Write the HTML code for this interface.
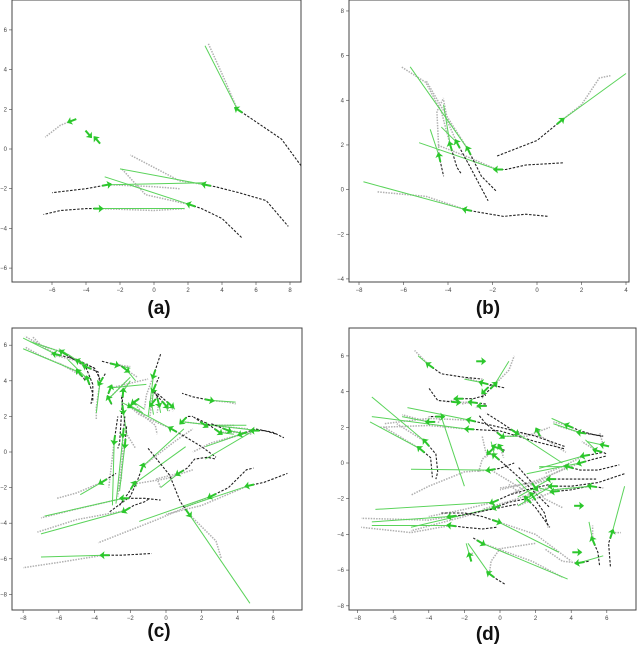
<!DOCTYPE html>
<html><head><meta charset="utf-8"><style>
body{margin:0;background:#fff;width:640px;height:650px;overflow:hidden;font-family:"Liberation Sans",sans-serif}
svg{position:absolute;left:0;top:0}
.lbl{font-weight:bold;font-size:19px;fill:#111}
.tk{font-size:6px;fill:#444}
</style></head><body>
<svg id="fig" width="640" height="650"></svg>
<script>
// ---------- Panel (a) data ----------
const posA=[[4.9,2.0],[3.0,-1.8],[2.1,-2.8],[-2.7,-1.8],[-3.2,-3.0],[-4.9,1.4],[-3.8,0.7],[-3.4,0.5]];
const histA=[[[5.6,1.6],[7.5,0.5],[8.7,-0.9]],[[3.6,-1.9],[5,-2.2],[6.6,-2.6],[7.9,-3.9]],[[2.8,-3.0],[4,-3.5],[5.2,-4.5]],[[-4,-2.0],[-6,-2.2]],[[-4,-3.0],[-5.5,-3.1],[-6.5,-3.3]],[],[],[]];
const futA=[[[4.1,3.6],[3.2,5.3]],[[1.5,-1.6],[-1.4,-0.3]],[[-0.5,-2.3],[-1.9,-1.0]],[[0,-1.9],[1.5,-2.0]],[[0,-3.1],[1.8,-3.0]],[[-5.5,1.2],[-6.4,0.6]],[[-3.7,0.6]],[[-3.5,0.6]]];
const predA=[[3.0,5.2],[-2.0,-1.0],[-2.9,-1.4],[3.0,-1.7],[1.8,-3.0],null,null,null];
// ---------- Panel (b) data ----------
const posB=[[1.1,3.1],[-1.8,0.9],[-3.2,-0.9],[-4.4,1.5],[-3.9,2.0],[-3.1,1.8],[-3.6,2.1]];
const histB=[[[0,2.2],[-1.8,1.5]],[[-1.4,0.9],[-0.5,1.1],[1.2,1.2]],[[-2.7,-1.0],[-1.5,-1.2],[-0.5,-1.1],[0.5,-1.2]],[[-4.2,0.6]],[[-3.6,1.0],[-3.4,0.7]],[[-2.5,0.6],[-1.8,-0.1]],[[-3.0,1.0],[-2.2,-0.5]]];
const futB=[[[2,3.8],[2.8,5],[3.3,5.1]],[[-3.2,1.5],[-4.5,2.0]],[[-5,-0.3],[-7.2,-0.1]],[[-4.5,3.5],[-4.2,4.1]],[[-4.3,3.5],[-5,4.8],[-6.1,5.5]],[[-4,3.2],[-5,4.9]],[[-4,3],[-4.2,4]]];
const predB=[[4.0,5.2],[-5.3,2.1],[-7.8,0.35],[-4.8,2.7],[-4.2,3.8],[-5.7,5.5],[-4.3,2.8]];
// ---------- Panel (c) data ----------
const posC=[[-6.2,5.5],[-5.8,5.6],[-4.9,5.1],[-4.5,4.8],[-4.9,4.5],[-4.4,4.1],[-3.7,3.9],[-2.8,4.9],[-2.2,4.6],[-3.1,3.6],[-3.2,3.0],[-2.4,3.4],[-2.4,2.3],[-2.0,2.6],[-1.8,2.8],[-2.4,1.0],[-2.9,0.6],[-2.3,0.4],[-0.7,4.3],[-0.7,3.5],[-0.8,2.7],[-0.4,2.7],[0.0,2.6],[0.3,2.6],[2.5,2.9],[0.3,1.3],[0.9,1.7],[2.2,1.5],[3.0,1.1],[3.5,1.2],[4.2,1.0],[4.9,1.2],[-1.3,-0.8],[-1.8,-1.8],[0.7,-1.2],[-3.6,-1.7],[-2.4,-2.6],[-2.3,-3.3],[2.5,-2.5],[4.6,-1.9],[1.3,-3.5],[-3.5,-5.8]];
const histC=[[[-5,5.2],[-4,4.7]],[[-4.5,4.8],[-4.1,3.8],[-4.1,2.8]],[[-4,4.7],[-3.7,4.1]],[[-3.8,4.5],[-3.7,3.8]],[[-4.5,4.0]],[[-4.1,3.3],[-4.2,2.7]],[[-3.4,4.4]],[[-3.6,5.1]],[[-2.6,4.9]],[[-3.3,3.1]],[[-3.0,2.6]],[[-2.5,2.0],[-2.6,0.5],[-2.7,0.2]],[[-2.5,3.2]],[[-1.6,2.9]],[[-1.5,3.0]],[[-2.3,2.0]],[[-2.7,2]],[[-2.2,1.5]],[[-0.3,5.5]],[[-0.4,4.2]],[[-0.4,3.2]],[[-0.6,3.4]],[[-0.8,3.5]],[[-0.5,3.3]],[[1.5,3.1],[0.9,3.3]],[[1.0,0.9],[2.0,0.3],[2.8,-0.3]],[[1.2,2.0],[1.5,2.0]],[[1.5,2.0]],[[2.3,1.6],[1.7,1.9]],[[2.5,1.6]],[[5,1.3],[6,1.1],[6.6,0.8]],[[5.5,1.2],[6.2,1.0]],[[-1.6,-1.6],[-2.0,-2.5],[-3.2,-3.4]],[[-2.1,-2.3],[-2.6,-3.0]],[[1.2,-0.9],[1.6,-0.4],[2.3,-0.3],[2.8,-0.4]],[[-2.8,-1.2]],[[-1.2,-2.6],[-0.3,-2.7]],[[-1.8,-3.0],[-1.2,-2.8],[-0.9,-2.6]],[[3.5,-2.0],[4.5,-1.0],[4.9,-0.9]],[[5.5,-1.7],[6.8,-1.2]],[[0.8,-2.8],[0.2,-1.3],[-1.0,0.2]],[[-2.5,-5.8],[-0.8,-5.7]]];
const futC=[[[-7,6],[-7.9,6.5]],[[-7,6],[-7.5,6.5]],[[-6.5,5.5]],[[-6,5.7]],[[-7,5.4],[-7.9,5.9]],[[-6,5]],[[-3.9,2.5],[-3.9,1.8]],[[-2,4.8]],[[-1.6,4.2]],[[-1,4.1]],[[-2.2,4.0]],[[-2.2,3.8]],[[-2.2,1.0],[-1.7,0.2]],[[-0.6,1.5],[-0.5,1.0]],[[-1.2,2.0]],[[-2.5,-1.5],[-2.7,-2.2]],[[-3.2,-2]],[[-2.6,-1.5],[-2.7,-2.5]],[[-1.1,3.2],[-1.2,2.5]],[[-0.9,2.4]],[[-0.9,2.0]],[[-0.5,2.2]],[[0.2,2.3]],[[0.4,2.3]],[[3.5,2.8],[3.9,2.7]],[[-1.5,2.1],[-2.2,2.7]],[[3.5,1.4],[4.6,1.3]],[[3.8,1.5]],[[4,1.1]],[[4.8,1.0]],[[2.5,0.5],[1.5,0]],[[3,0.6]],[[0.5,0.6],[1.5,1.3]],[[0,-1.5],[1.5,-1.0]],[[-0.5,-1.5],[-0.3,-2.0]],[[-5,-2.3],[-6.1,-2.6]],[[-5,-3.2],[-7,-3.7]],[[-5,-3.8],[-7.2,-4.5]],[[-0.5,-3.8],[-3.8,-5.1]],[[2,-3],[0,-3.5]],[[2.8,-5],[3.1,-6]],[[-6,-6.2],[-8,-6.5]]];
const predC=[[-8,6.4],[-7.6,6.2],[-6.0,5.8],[-5.5,5.5],[-8,5.8],[-5.5,5.2],[-3.9,2.2],[-2.0,4.7],[-1.7,4.0],[-1.1,3.8],[-2.0,4.2],[-2.0,4.0],[-2.2,1.0],[-1.3,2.2],[-1.2,2.4],[-2.8,-2.9],[-3.0,-3.0],[-2.6,-2.2],[-1.0,2.0],[-0.8,2.5],[-0.7,2.1],[-0.3,2.2],[0.1,2.3],[0.5,2.4],[3.9,2.8],[-2.5,2.8],[5.2,1.2],[4.5,1.5],[3.8,1.0],[4.6,1.0],[2.2,0.3],[2.2,-0.4],[1.0,1.3],[1.1,0.3],[-0.3,-2.0],[-4.8,-2.4],[-6.8,-3.6],[-7.0,-4.6],[-1.5,-3.9],[1.0,-3.1],[4.7,-8.5],[-7.0,-5.9]];
// ---------- Panel (d) data ----------
const posD=[[-4.0,5.5],[-1.0,5.7],[-1.0,4.5],[-0.3,4.4],[-0.9,4.0],[-2.4,3.6],[-2.4,3.4],[-1.6,3.4],[-1.1,3.2],[-3.3,2.6],[-4.0,2.3],[-1.7,2.4],[-1.8,1.9],[-4.2,1.2],[-4.5,0.8],[0.1,1.5],[0.9,1.7],[2.1,1.8],[3.8,2.1],[4.5,1.7],[5.8,1.0],[5.4,0.7],[4.7,0.4],[4.5,0.0],[3.8,-0.2],[-0.6,-0.4],[-0.6,0.6],[-0.3,0.9],[0.0,0.9],[-0.3,0.4],[2.8,-0.9],[2.9,-1.3],[3.0,-1.6],[5.1,-1.3],[2.0,-1.4],[1.8,-1.8],[1.5,-2.0],[-0.4,-2.2],[-0.3,-2.5],[-2.8,-3.0],[-2.8,-3.5],[-0.1,-3.3],[-1.0,-4.5],[-1.7,-5.2],[-0.6,-6.2],[4.4,-5.6],[4.4,-5.0],[5.2,-4.3],[6.3,-3.9],[4.5,-2.4]];
const histD=[[[-3.3,5.0],[-2,4.8],[-1,4.7]],[],[[-0.2,4.3],[0.3,4.2]],[[-0.8,3.9],[-1.0,3.7]],[[-0.5,4.4]],[[-1.5,3.6],[-0.8,3.8]],[[-3.5,3.5],[-4.0,4.2]],[[-0.8,3.3]],[[-0.7,3.2]],[[-4,2.6]],[[-3.6,2.3]],[[0,2.0],[2,1.5],[3.7,0.9]],[[0,1.8],[2,1.2],[3.6,0.8]],[[-3.6,0.5],[-3.5,-0.5],[-3.6,-0.9]],[[-3.9,0.3],[-3.8,-0.8]],[[-0.8,2.2],[-1.2,2.7]],[[0,2.3],[-0.8,2.8]],[[2.2,1.6]],[[4.5,1.8],[5.2,1.6],[5.8,1.5]],[[5.2,1.6],[5.7,1.5]],[],[[5.8,0.6],[6,0.5]],[[5.3,0.5],[5.8,0.6]],[[5.2,0.2],[6,0.4]],[[4.5,-0.4],[5.5,-0.4],[6.7,-0.1]],[[0,-0.3],[0.8,0]],[[-0.4,0.8]],[[0.3,0.7]],[[0.2,0.6]],[[0.5,-0.3],[1.5,-1.2],[2.8,-2.5]],[[3.5,-0.9],[5.4,-0.9]],[[4,-1.3],[5.5,-1.1],[7,-0.6]],[[4,-1.5],[5,-1.3]],[[5.8,-1.4]],[[1.7,-1.0],[1.0,-0.2]],[[2.5,-2.8],[2.7,-3.6]],[[2,-2.5],[2.8,-3.6]],[[0.5,-1.8],[1.5,-1.5],[2.8,-1.2]],[[0.5,-2.2],[1.5,-2.0]],[[-2,-2.9],[-0.5,-2.6],[1,-2.3]],[[-2,-3.6],[-1,-3.7],[-0.2,-3.6]],[[-1,-3.0],[-2,-2.8],[-3.3,-2.8]],[[-1.5,-4.2]],[],[[-0.2,-6.5],[0.3,-6.8]],[[5,-5.5]],[],[[5.5,-5.0],[5.6,-5.8]],[[6.1,-4.5],[6.2,-5.8]],[]];
const futD=[[[-4.8,6.3]],[],[[-2,4.8]],[[0.5,5.2],[0.8,6]],[[-1.0,3.6]],[[-3.0,3.4]],[[-1.8,3.4]],[[-2.2,3.3]],[[-1.4,3.1]],[[-3.5,2.2]],[[-5.5,2.7]],[[-4,2.5],[-6.5,2.2]],[[-4,2.1],[-6.8,2.0]],[[-5.8,2.2]],[[-6.5,2.0]],[[1.5,1.5],[2.8,2.0]],[[2.3,1.5],[3.7,0.6]],[],[[3,2.3]],[[3.2,2.1]],[[5.6,1.7]],[[4.6,1.2]],[[3.5,-0.2],[2.5,-0.6]],[[2,-1],[0,-1.5]],[[2,-1.1],[0,-1.4]],[[-2,-0.5],[-4,-1.3],[-5,-1.8]],[[-1.0,0.2],[-1.2,-0.5]],[[-0.8,0.3]],[[0.2,0.3]],[[-0.8,0.6],[-1,1.5]],[[1.5,-1.3],[0.5,-1.8]],[[1,-2],[-1,-2.6]],[[1,-2.4]],[[3,-1.5]],[[2.5,-2],[3.5,-2.5]],[[0.5,-1],[-0.5,-0.4]],[[0.5,-1.2]],[[-2,-2.6],[-4,-3]],[[-2,-3.0],[-5,-3.8]],[[-4,-3.2],[-7.8,-3.1]],[[-5,-3.9],[-7.8,-3.6]],[[2,-4],[4,-5.5]],[[1.8,-5.5],[3.5,-6.4]],[[-1.5,-5]],[[-0.5,-5.5],[0,-4.8],[2,-4.5]],[[3.5,-5.5],[2.5,-4.8]],[],[[5.2,-3.5]],[[6.8,-3.9]],[]];
const predD=[[-4.6,6.0],null,[-2,4.7],[0.5,5.7],null,null,null,null,null,[-2,-1.3],[-5.5,2.6],[-5.2,3.1],[-7.2,2.6],[-7.2,3.7],[-7.3,2.3],[1,1.5],[3.5,0.0],null,[2.9,2.5],[3.0,2.2],[4.9,1.2],[4.8,1.3],[2.2,-0.3],[1.5,-0.6],[2.2,-0.2],[-5.0,-0.35],null,null,null,[-0.5,1.2],[1.0,-1.9],[1,-2.4],[2.2,-1.4],[3,-1.5],null,[0.9,-0.9],null,[-7,-2.6],[-5,-3.6],[-7.2,-3.3],[-7.2,-3.5],[3.3,-5],[3.8,-6.5],[-1.9,-4.5],[-1.8,-4.5],[5.8,-5.2],null,[5.0,-3.3],[7.0,-1.3],null];
// ---------- Tick labels ----------
const ticksAX=[-6,-4,-2,0,2,4,6,8], ticksAY=[-6,-4,-2,0,2,4,6];
const ticksBX=[-8,-6,-4,-2,0,2,4], ticksBY=[-4,-2,0,2,4,6,8];
const ticksCX=[-8,-6,-4,-2,0,2,4,6], ticksCY=[-8,-6,-4,-2,0,2,4,6];
const ticksDX=[-8,-6,-4,-2,0,2,4,6], ticksDY=[-8,-6,-4,-2,0,2,4,6];

const NS='http://www.w3.org/2000/svg';
const svg=document.getElementById('fig');
function mk(tag,attrs,parent){const e=document.createElementNS(NS,tag);for(const k in attrs)e.setAttribute(k,attrs[k]);(parent||svg).appendChild(e);return e;}

function panel(id,box,x0,sx,y0,sy,tx,ty,pos,hist,fut,pred,label,lx,ly){
  const g=mk('g',{});
  
  
  const X=v=>x0+v*sx, Y=v=>y0-v*sy;
  const fr=mk('rect',{x:box[0],y:box[1],width:box[2]-box[0],height:box[3]-box[1],fill:'#fff',stroke:'#444','stroke-width':1},g);
  
  
  tx.forEach(t=>{const x=X(t);mk('line',{x1:x,x2:x,y1:box[3],y2:box[3]+3,stroke:'#444','stroke-width':0.6},g);
    const tl=mk('text',{x:x,y:box[3]+10,'text-anchor':'middle',class:'tk'},g);tl.textContent=(t<0?'\u2212':'')+Math.abs(t);
    
    });
  ty.forEach(t=>{const y=Y(t);mk('line',{x1:box[0]-3,x2:box[0],y1:y,y2:y,stroke:'#444','stroke-width':0.6},g);
    const tl=mk('text',{x:box[0]-5,y:y+2,'text-anchor':'end',class:'tk'},g);tl.textContent=(t<0?'\u2212':'')+Math.abs(t);
    
    });
  const cl='clip'+id;
  const cp=mk('clipPath',{id:cl},g);mk('rect',{x:box[0],y:box[1],width:box[2]-box[0],height:box[3]-box[1]},cp);
  const pg=mk('g',{'clip-path':'url(#'+cl+')'},g);
  const pts=arr=>arr.map(p=>X(p[0]).toFixed(1)+','+Y(p[1]).toFixed(1)).join(' ');
  pos.forEach((p,i)=>{
    if(fut[i]&&fut[i].length){const l=mk('polyline',{points:pts([p].concat(fut[i])),fill:'none',stroke:'#b0b0b0','stroke-width':1.5,'stroke-dasharray':'1.5,1.2'},pg);
      
      }
  });
  pos.forEach((p,i)=>{
    if(hist[i]&&hist[i].length){const l=mk('polyline',{points:pts([p].concat(hist[i])),fill:'none',stroke:'#222','stroke-width':1.1,'stroke-dasharray':'2.5,1.5'},pg);
      
      }
    if(pred[i]){const l=mk('line',{x1:X(p[0]),y1:Y(p[1]),x2:X(pred[i][0]),y2:Y(pred[i][1]),stroke:'#5ad35a','stroke-width':1},pg);
      
      }
  });
  pos.forEach((p,i)=>{
    let dx,dy;
    if(hist[i]&&hist[i].length){dx=X(p[0])-X(hist[i][0][0]);dy=Y(p[1])-Y(hist[i][0][1]);}
    else if(pred[i]){dx=X(pred[i][0])-X(p[0]);dy=Y(pred[i][1])-Y(p[1]);}
    else if(fut[i]&&fut[i].length){dx=X(fut[i][0][0])-X(p[0]);dy=Y(fut[i][0][1])-Y(p[1]);}
    else{dx=1;dy=0;}
    const a=Math.atan2(dy,dx)*180/Math.PI;
    const m=mk('g',{transform:'translate('+X(p[0]).toFixed(1)+','+Y(p[1]).toFixed(1)+') rotate('+a.toFixed(1)+')'},pg);
    
    
    mk('line',{x1:-6,y1:0,x2:3,y2:0,stroke:'#2cc72c','stroke-width':2},m);
    mk('polygon',{points:'4,0 -1,-4 0,0 -1,4',fill:'#2cc72c'},m);
  });
  const t=mk('text',{x:lx,y:ly,'text-anchor':'middle',class:'lbl'},g);t.textContent=label;
  
  
}
panel('a',[12,0,301,282],154,17,149,19.85,ticksAX,ticksAY,posA,histA,futA,predA,'(a)',159,314);
panel('b',[349,0,629,282],537,22.25,189.6,22.33,ticksBX,ticksBY,posB,histB,futB,predB,'(b)',488,314);
panel('c',[12,328,302,610],166,17.86,452,17.8,ticksCX,ticksCY,posC,histC,futC,predC,'(c)',159,637);
panel('d',[349,328,636,610],500,17.8,463,17.85,ticksDX,ticksDY,posD,histD,futD,predD,'(d)',488,640);
</script>
</body></html>
